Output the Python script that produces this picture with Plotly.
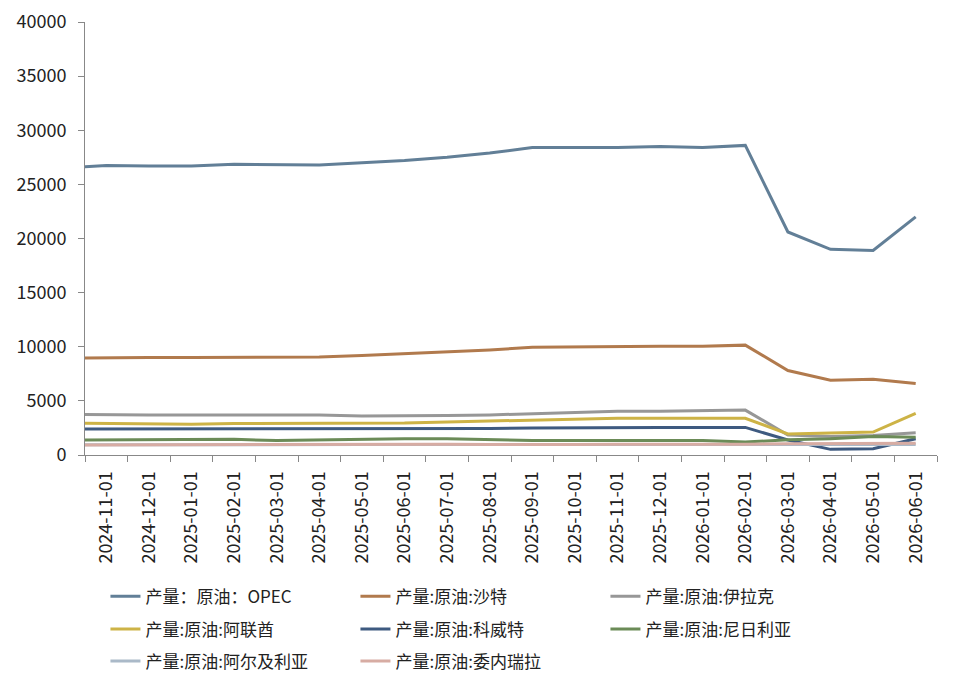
import plotly.graph_objs as go

# 月份(第一个月份只作为左侧延伸, 不显示标签)
months = ['2024-10-01', '2024-11-01', '2024-12-01', '2025-01-01', '2025-02-01', '2025-03-01',
          '2025-04-01', '2025-05-01', '2025-06-01', '2025-07-01', '2025-08-01', '2025-09-01',
          '2025-10-01', '2025-11-01', '2025-12-01', '2026-01-01', '2026-02-01', '2026-03-01',
          '2026-04-01', '2026-05-01', '2026-06-01']

opec = [26500, 26750, 26700, 26700, 26850, 26800, 26800, 27000, 27200, 27500, 27900,
        28400, 28400, 28400, 28500, 28400, 28600, 20600, 19000, 18900, 22000]
saudi = [8950, 9000, 9000, 9000, 9000, 9000, 9050, 9200, 9350, 9500, 9700,
         9950, 10000, 10050, 10050, 10050, 10150, 7800, 6900, 7000, 6600]
iraq = [3750, 3700, 3700, 3700, 3700, 3700, 3700, 3600, 3600, 3650, 3700,
        3800, 3950, 4050, 4050, 4100, 4150, 1850, 1700, 1800, 2060]
uae = [2950, 2920, 2830, 2850, 2900, 2900, 2900, 2900, 2950, 3050, 3150,
       3250, 3300, 3390, 3390, 3390, 3390, 1940, 2000, 2120, 3850]
kuwait = [2400, 2400, 2400, 2400, 2400, 2400, 2400, 2400, 2400, 2420, 2450,
          2500, 2530, 2550, 2550, 2550, 2550, 1380, 520, 580, 1500]
nigeria = [1380, 1400, 1450, 1500, 1450, 1330, 1400, 1450, 1500, 1500, 1420,
           1330, 1330, 1350, 1380, 1350, 1200, 1400, 1500, 1700, 1630]
algeria = [950, 960, 960, 960, 960, 960, 960, 960, 960, 960, 960,
           960, 960, 960, 960, 960, 960, 960, 960, 960, 980]
venezuela = [920, 930, 950, 970, 990, 1000, 1000, 1000, 1020, 1000, 980,
             950, 960, 1000, 1000, 980, 1000, 1050, 1050, 1060, 1080]

names = ['产量：原油：OPEC', '产量:原油:沙特', '产量:原油:伊拉克', '产量:原油:阿联酋',
         '产量:原油:科威特', '产量:原油:尼日利亚', '产量:原油:阿尔及利亚', '产量:原油:委内瑞拉']
series = [opec, saudi, iraq, uae, kuwait, nigeria, algeria, venezuela]
colors = ['#627f97', '#b17a4d', '#979797', '#cdb346', '#3e5a80', '#6b8b57', '#aab9c8', '#d7aca3']

# 图例分三行, 每行三个
legend_rows = ['legend', 'legend', 'legend', 'legend2', 'legend2', 'legend2', 'legend3', 'legend3']

fig = go.Figure()
for name, vals, c, lg in zip(names, series, colors, legend_rows):
    fig.add_trace(go.Scatter(x=months, y=vals, name=name, mode='lines', legend=lg,
                             line=dict(color=c, width=3)))

def row_legend(y):
    return dict(orientation='h', x=0.024, y=y, xanchor='left', yanchor='middle',
                entrywidth=205, entrywidthmode='pixels', bgcolor='rgba(0,0,0,0)',
                font=dict(size=17, family='Noto Sans CJK SC', color='#222'))

fig.update_layout(
    width=959, height=685,
    margin=dict(l=77, r=30, t=14, b=238),
    paper_bgcolor='white', plot_bgcolor='white',
    font=dict(family='Noto Sans CJK SC', color='#222'),
    showlegend=True,
    legend=row_legend(-0.327),
    legend2=row_legend(-0.403),
    legend3=row_legend(-0.477),
    xaxis=dict(type='category', range=[0.5, 20.5], tickson='boundaries',
               showline=True, linecolor='#888', linewidth=1,
               ticks='outside', ticklen=6, tickcolor='#888',
               tickangle=-90, tickfont=dict(size=18, family='Noto Sans CJK SC'),
               ticklabelstandoff=8, showgrid=False, automargin=False),
    yaxis=dict(range=[0, 40000], dtick=5000, tickformat='d', showline=True,
               linecolor='#888', linewidth=1, ticks='outside', ticklen=6,
               tickcolor='#888', tickfont=dict(size=18, family='Noto Sans CJK SC'),
               ticklabelstandoff=8, ticklabeloverflow='allow',
               showgrid=False, zeroline=False, automargin=False),
)

fig.write_html("out.html")
